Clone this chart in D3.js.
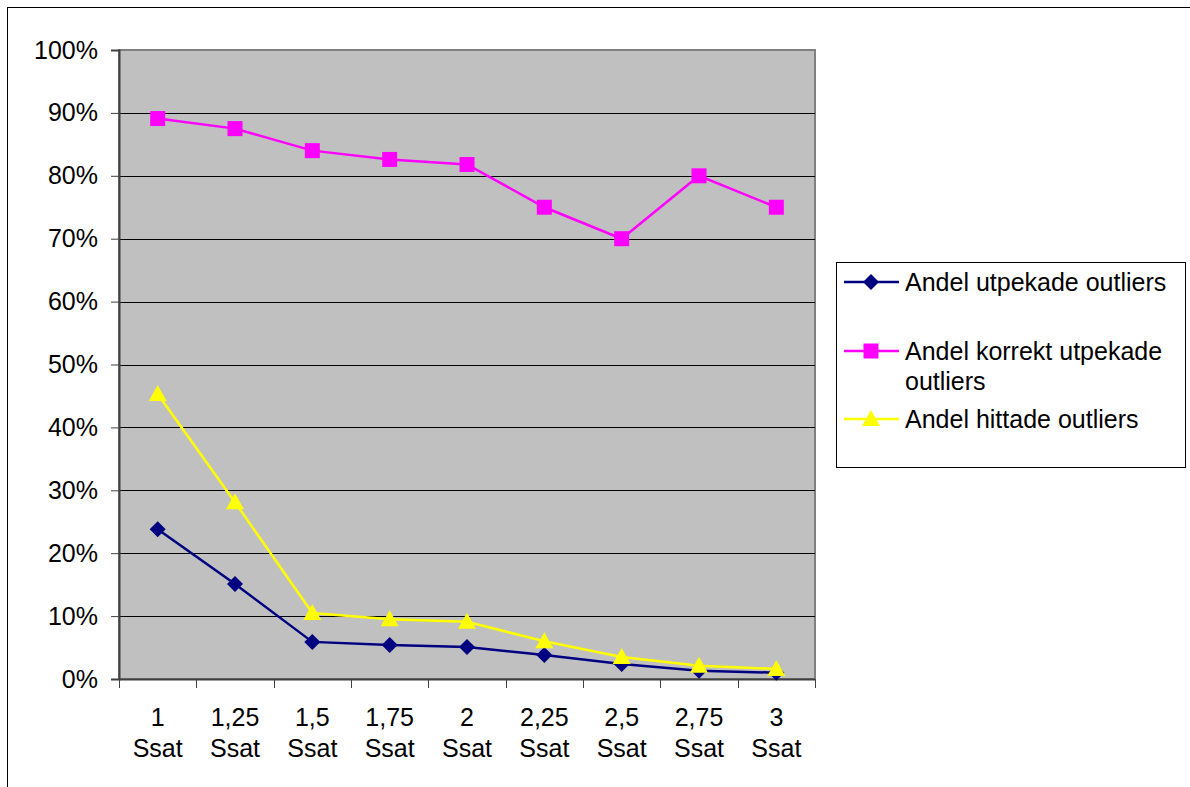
<!DOCTYPE html>
<html>
<head>
<meta charset="utf-8">
<script src="https://cdn.jsdelivr.net/npm/d3@7"></script>
<style>
  body { margin: 0; background: #fff; }
  svg text { font-family: "Liberation Sans", Arial, sans-serif; fill: #000; }
</style>
</head>
<body>
<script>
// data
var categories = ["1", "1,25", "1,5", "1,75", "2", "2,25", "2,5", "2,75", "3"];
var utpekade = [23.8, 15.1, 5.9, 5.4, 5.1, 3.8, 2.4, 1.3, 1.0];
var korrekt = [89.1, 87.5, 84.0, 82.6, 81.8, 75.0, 70.0, 80.0, 75.0];
var hittade = [45.3, 28.1, 10.5, 9.5, 9.1, 6.0, 3.5, 2.1, 1.6];
var yTicks = [0, 10, 20, 30, 40, 50, 60, 70, 80, 90, 100];
var seriesNames = ["Andel utpekade outliers", "Andel korrekt utpekade outliers", "Andel hittade outliers"];

var W = 1190, H = 787;
var plot = { left: 119, top: 50, right: 815, bottom: 679 };
var fontSize = "25px";

var svg = d3.select("body").append("svg")
    .attr("width", W)
    .attr("height", H);

// outer chart border
svg.append("rect")
    .attr("x", 7.5).attr("y", 7.5)
    .attr("width", W + 10).attr("height", H + 10)
    .attr("fill", "#fff")
    .attr("stroke", "#000");

var x = d3.scaleBand().domain(categories).range([plot.left, plot.right]);
var y = d3.scaleLinear().domain([0, 100]).range([plot.bottom, plot.top]);

// plot area
svg.append("rect")
    .attr("x", plot.left).attr("y", plot.top)
    .attr("width", plot.right - plot.left)
    .attr("height", plot.bottom - plot.top)
    .attr("fill", "#c0c0c0")
    .attr("stroke", "#808080")
    .attr("stroke-width", 2);

// gridlines
svg.selectAll(".grid")
    .data(yTicks.filter(d => d > 0 && d < 100))
    .enter().append("line")
    .attr("x1", plot.left).attr("x2", plot.right)
    .attr("y1", d => Math.round(y(d)) + 0.5)
    .attr("y2", d => Math.round(y(d)) + 0.5)
    .attr("stroke", "#000")
    .attr("stroke-width", 1);

// y axis
var yAxis = svg.append("g")
    .attr("transform", "translate(" + plot.left + ",0)")
    .call(d3.axisLeft(y).tickValues(yTicks).tickSize(8).tickPadding(13).tickFormat(d => d + "%"));
yAxis.select(".domain").attr("stroke", "#404040").attr("stroke-width", 2);
yAxis.selectAll(".tick line").attr("stroke", "#404040");
yAxis.selectAll("text").style("font-size", fontSize).attr("fill", "#000");

// x axis: ticks on category boundaries
var xg = svg.append("g");
var bounds = categories.map(c => x(c)).concat([plot.right]);
xg.append("line")
    .attr("x1", plot.left).attr("x2", plot.right)
    .attr("y1", plot.bottom + 0.5).attr("y2", plot.bottom + 0.5)
    .attr("stroke", "#404040").attr("stroke-width", 2);
xg.selectAll(".xt")
    .data(bounds)
    .enter().append("line")
    .attr("x1", d => Math.round(d) + 0.5).attr("x2", d => Math.round(d) + 0.5)
    .attr("y1", plot.bottom).attr("y2", plot.bottom + 9)
    .attr("stroke", "#404040");
var xl = xg.selectAll(".xl")
    .data(categories)
    .enter().append("text")
    .attr("text-anchor", "middle")
    .style("font-size", fontSize);
xl.append("tspan").attr("x", d => x(d) + x.bandwidth() / 2).attr("y", 726).text(d => d);
xl.append("tspan").attr("x", d => x(d) + x.bandwidth() / 2).attr("y", 757).text("Ssat");

var series = [
  { name: seriesNames[0], values: utpekade, color: "#000080", shape: "diamond" },
  { name: seriesNames[1], values: korrekt, color: "#ff00ff", shape: "square" },
  { name: seriesNames[2], values: hittade, color: "#ffff00", shape: "triangle" }
];

function markerPath(shape) {
  if (shape === "diamond") return "M0,-8L8,0L0,8L-8,0Z";
  if (shape === "square") return "M-7.5,-7.5H7.5V7.5H-7.5Z";
  return "M0,-9L9,7H-9Z";
}

var line = d3.line()
    .x((d, i) => x(categories[i]) + x.bandwidth() / 2)
    .y(d => y(d));

series.forEach(function(s) {
  svg.append("path")
      .attr("d", line(s.values))
      .attr("fill", "none")
      .attr("stroke", s.color)
      .attr("stroke-width", 2.5);
  svg.selectAll(null)
      .data(s.values)
      .enter().append("path")
      .attr("d", markerPath(s.shape))
      .attr("transform", (d, i) => "translate(" + (x(categories[i]) + x.bandwidth() / 2) + "," + y(d) + ")")
      .attr("fill", s.color);
});

// legend
var lg = svg.append("g");
lg.append("rect")
    .attr("x", 836.5).attr("y", 262.5)
    .attr("width", 349).attr("height", 205)
    .attr("fill", "#fff")
    .attr("stroke", "#000");
var legRows = [
  { y: 282, lines: ["Andel utpekade outliers"] },
  { y: 351, lines: ["Andel korrekt utpekade", "outliers"] },
  { y: 419, lines: ["Andel hittade outliers"] }
];
series.forEach(function(s, i) {
  var r = legRows[i];
  lg.append("line")
      .attr("x1", 844).attr("x2", 899)
      .attr("y1", r.y).attr("y2", r.y)
      .attr("stroke", s.color).attr("stroke-width", 2.5);
  lg.append("path")
      .attr("d", markerPath(s.shape))
      .attr("transform", "translate(871," + r.y + ")")
      .attr("fill", s.color);
  r.lines.forEach(function(t, j) {
    lg.append("text")
        .attr("x", 905)
        .attr("y", r.y + 9 + j * 30)
        .style("font-size", fontSize)
        .text(t);
  });
});
</script>
</body>
</html>
